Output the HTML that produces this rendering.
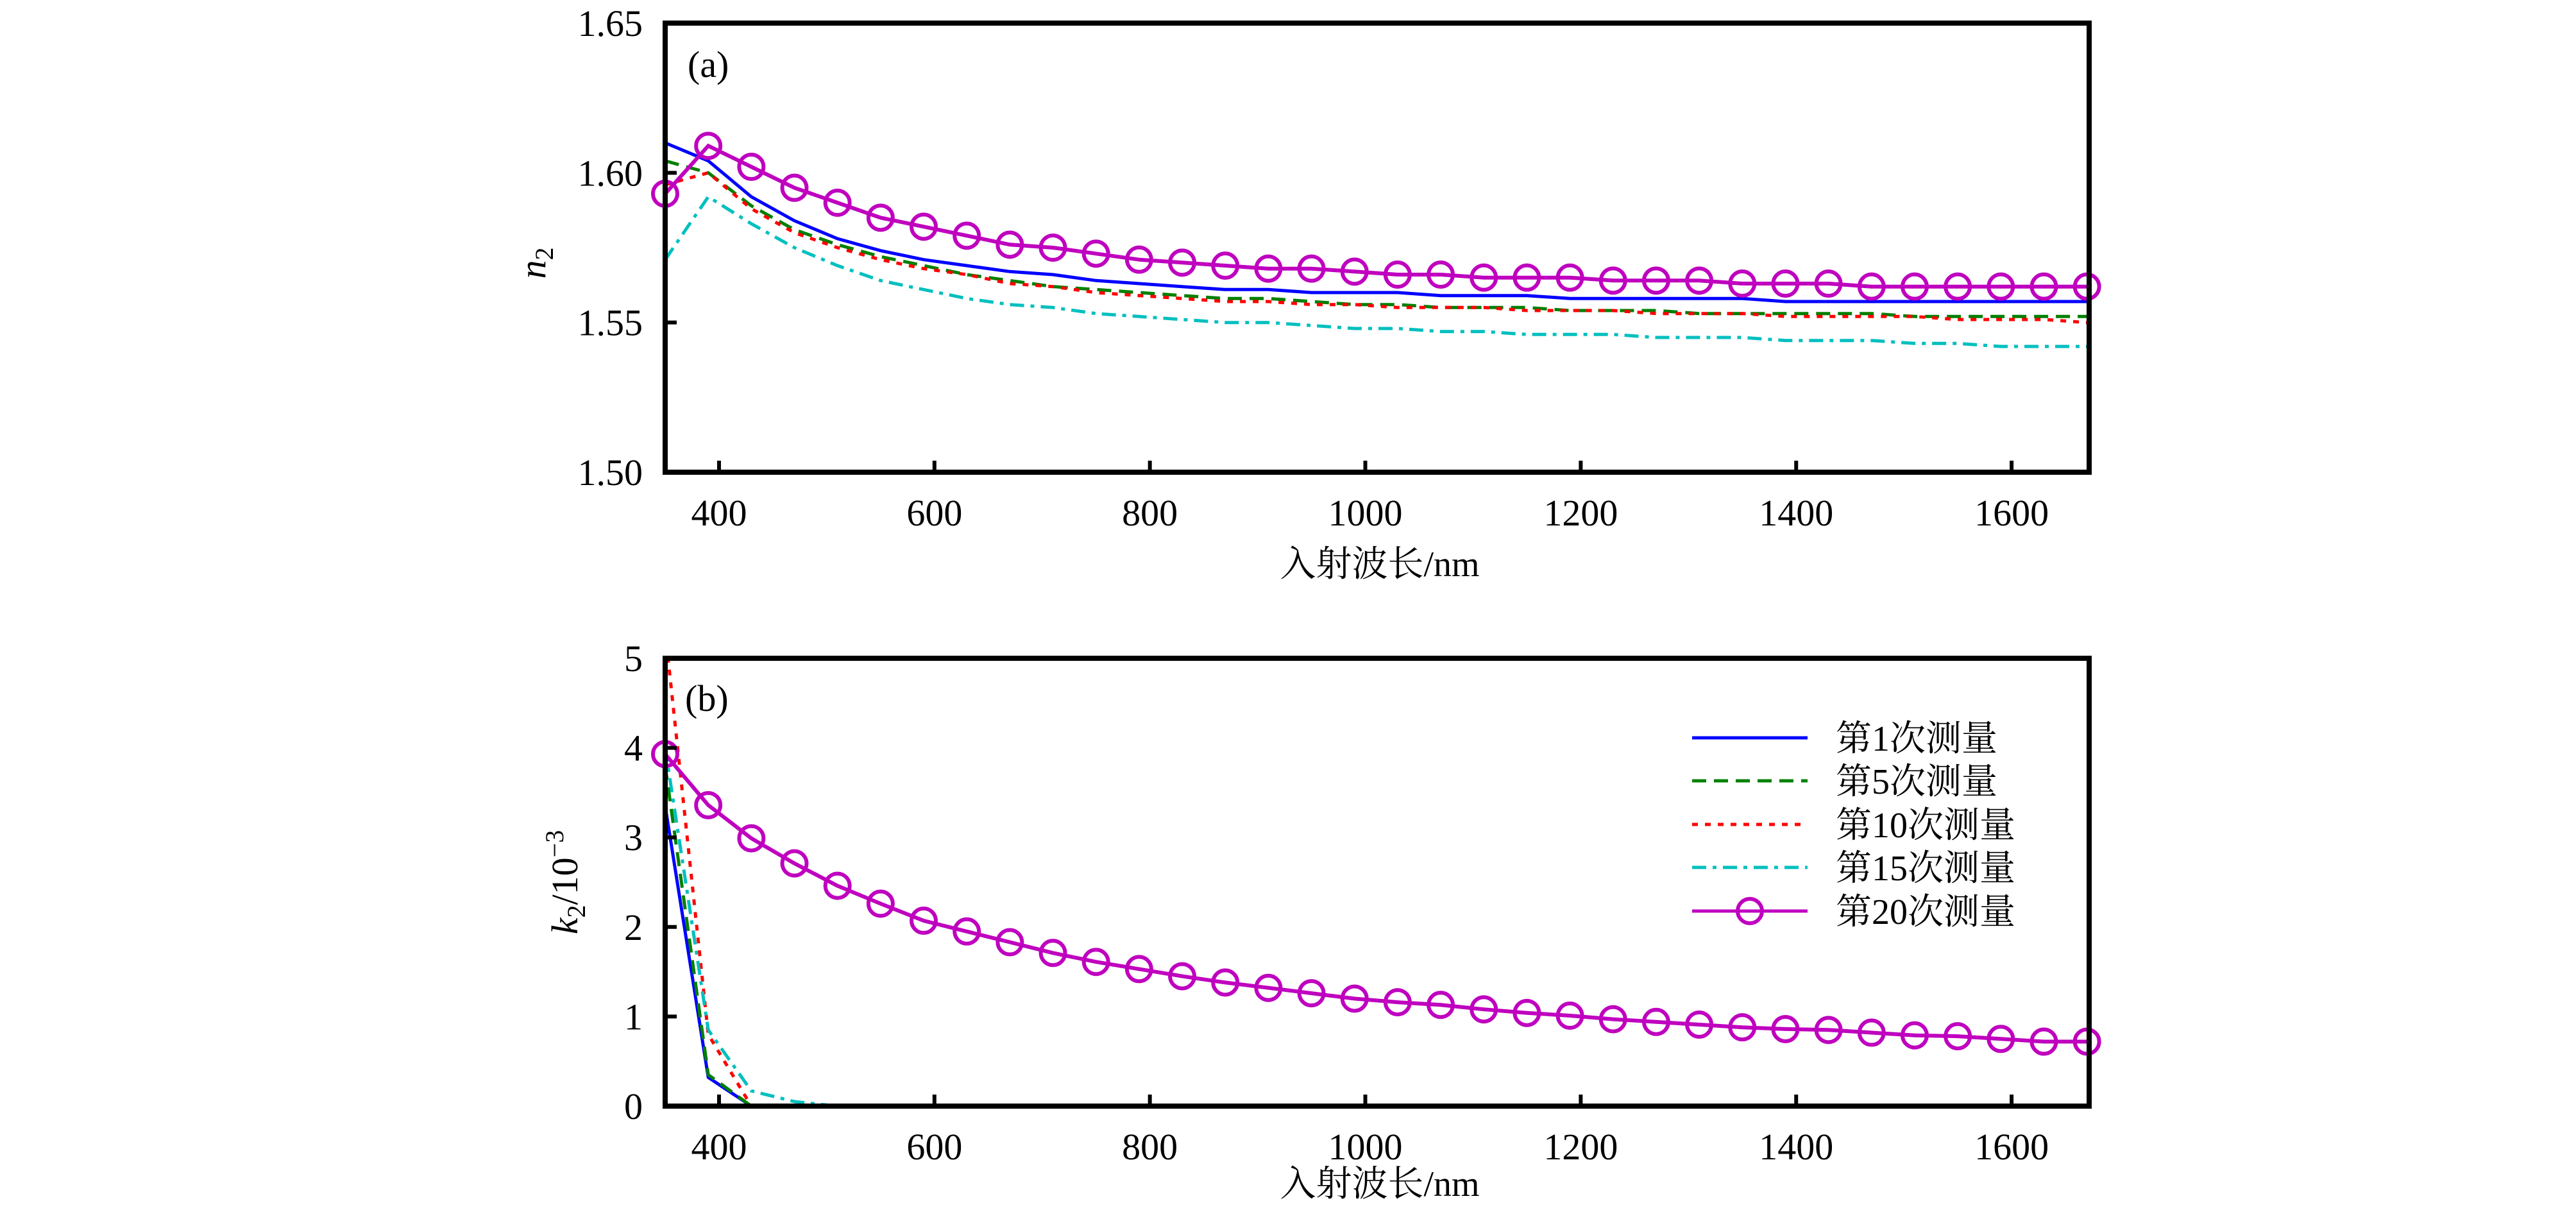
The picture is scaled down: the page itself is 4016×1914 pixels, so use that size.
<!DOCTYPE html>
<html><head><meta charset="utf-8">
<style>
html,body{margin:0;padding:0;background:#fff;}
svg{display:block;}
text{font-family:"Liberation Serif","Noto Serif CJK SC",serif;fill:#000;}
</style></head>
<body>
<svg id="chart" width="4016" height="1914" viewBox="0 0 4016 1914" xmlns="http://www.w3.org/2000/svg">
<g id="pa"></g>
<g id="pb"></g>
</svg>
<script>
const wl = [350,390,430,470,510,550,590,630,670,710,750,790,830,870,910,950,990,1030,1070,1110,1150,1190,1230,1270,1310,1350,1390,1430,1470,1510,1550,1590,1630,1670];
const nMeas1  = [1.610,1.604,1.592,1.584,1.578,1.574,1.571,1.569,1.567,1.566,1.564,1.563,1.562,1.561,1.561,1.560,1.560,1.560,1.559,1.559,1.559,1.558,1.558,1.558,1.558,1.558,1.557,1.557,1.557,1.557,1.557,1.557,1.557,1.557];
const nMeas5  = [1.604,1.600,1.589,1.581,1.576,1.572,1.569,1.566,1.564,1.562,1.561,1.560,1.559,1.558,1.558,1.557,1.556,1.556,1.555,1.555,1.555,1.554,1.554,1.554,1.553,1.553,1.553,1.553,1.553,1.552,1.552,1.552,1.552,1.552];
const nMeas10 = [1.596,1.600,1.588,1.580,1.575,1.571,1.568,1.566,1.563,1.562,1.560,1.559,1.558,1.557,1.557,1.556,1.556,1.555,1.555,1.555,1.554,1.554,1.554,1.553,1.553,1.553,1.552,1.552,1.552,1.552,1.551,1.551,1.551,1.550];
const nMeas15 = [1.571,1.592,1.583,1.575,1.569,1.564,1.561,1.558,1.556,1.555,1.553,1.552,1.551,1.550,1.550,1.549,1.548,1.548,1.547,1.547,1.546,1.546,1.546,1.545,1.545,1.545,1.544,1.544,1.544,1.543,1.543,1.542,1.542,1.542];
const nMeas20 = [1.593,1.609,1.602,1.595,1.590,1.585,1.582,1.579,1.576,1.575,1.573,1.571,1.570,1.569,1.568,1.568,1.567,1.566,1.566,1.565,1.565,1.565,1.564,1.564,1.564,1.563,1.563,1.563,1.562,1.562,1.562,1.562,1.562,1.562];
const kMeas1  = [3.35,0.32,0,0,0,0,0,0,0,0,0,0,0,0,0,0,0,0,0,0,0,0,0,0,0,0,0,0,0,0,0,0,0,0];
const kMeas5  = [3.80,0.35,0,0,0,0,0,0,0,0,0,0,0,0,0,0,0,0,0,0,0,0,0,0,0,0,0,0,0,0,0,0,0,0];
const kMeas10 = [5.30,0.80,0,0,0,0,0,0,0,0,0,0,0,0,0,0,0,0,0,0,0,0,0,0,0,0,0,0,0,0,0,0,0,0];
const kMeas15 = [4.00,0.85,0.17,0.05,0,0,0,0,0,0,0,0,0,0,0,0,0,0,0,0,0,0,0,0,0,0,0,0,0,0,0,0,0,0];
const kMeas20 = [3.93,3.36,2.99,2.71,2.46,2.26,2.07,1.95,1.83,1.71,1.61,1.53,1.45,1.38,1.32,1.26,1.20,1.16,1.13,1.08,1.04,1.01,0.97,0.94,0.91,0.88,0.86,0.85,0.82,0.79,0.78,0.75,0.72,0.72];
const xTicks = [400,600,800,1000,1200,1400,1600];
const nTicks = [1.50,1.55,1.60,1.65];
const nTickLabels = ["1.50","1.55","1.60","1.65"];
const kTicks = [0,1,2,3,4,5];
const legendLabels = ["第1次测量","第5次测量","第10次测量","第15次测量","第20次测量"];

const NS="http://www.w3.org/2000/svg";
const L=1037,R=3257,XMIN=350,XMAX=1672;
function xs(v){return L+(v-XMIN)/(XMAX-XMIN)*(R-L);}
function mk(tag,attrs,parent){const e=document.createElementNS(NS,tag);for(const k in attrs)e.setAttribute(k,attrs[k]);parent.appendChild(e);return e;}
const styles=[
 {c:"#0000ff",d:"none"},
 {c:"#008000",d:"22 12"},
 {c:"#ff0000",d:"9 11"},
 {c:"#00bfbf",d:"22 10 6 10"},
 {c:"#bf00bf",d:"none"}];
const seriesNames=["series-meas-1","series-meas-5","series-meas-10","series-meas-15","series-meas-20"];

function panel(g,T,B,ymin,ymax,ticks,tickLabels,series,clipId,tag){
  const ys=v=>B-(v-ymin)/(ymax-ymin)*(B-T);
  const defs=mk("defs",{},g);
  const cp=mk("clipPath",{id:clipId},defs);
  mk("rect",{x:L,y:T,width:R-L,height:B-T},cp);
  const sg=mk("g",{"clip-path":"url(#"+clipId+")"},g);
  series.forEach((arr,i)=>{
    const pts=arr.map((v,j)=>xs(wl[j]).toFixed(1)+","+ys(v).toFixed(1)).join(" ");
    const pl=mk("polyline",{points:pts,fill:"none",stroke:styles[i].c,"stroke-width":i==4?6:5,"stroke-dasharray":styles[i].d},sg);
    
    
  });
  const mg=mk("g",{},g);
  series[4].forEach((v,j)=>{
    const c=mk("circle",{cx:xs(wl[j]),cy:ys(v),r:19,fill:"none",stroke:"#bf00bf","stroke-width":6},mg);
    
    
  });
  const f=mk("rect",{x:L,y:T,width:R-L,height:B-T,fill:"none",stroke:"#000","stroke-width":8},g);
  
  
  xTicks.forEach(t=>{
    mk("line",{x1:xs(t),x2:xs(t),y1:B,y2:B-18,stroke:"#000","stroke-width":6},g);
    const tx=mk("text",{x:xs(t),y:B+83,"font-size":58,"text-anchor":"middle"},g);
    tx.textContent=t;
    
    
  });
  ticks.forEach((t,i)=>{
    mk("line",{x1:L,x2:L+18,y1:ys(t),y2:ys(t),stroke:"#000","stroke-width":6},g);
    const tx=mk("text",{x:L-35,y:ys(t)+20,"font-size":58,"text-anchor":"end"},g);
    tx.textContent=tickLabels[i];
    
    
  });
}
const pa=document.getElementById("pa"),pb=document.getElementById("pb");
panel(pa,36,736,1.50,1.65,nTicks,nTickLabels,[nMeas1,nMeas5,nMeas10,nMeas15,nMeas20],"ca","panel-a");
panel(pb,1026,1724,0,5,kTicks,kTicks.map(String),[kMeas1,kMeas5,kMeas10,kMeas15,kMeas20],"cb","panel-b");

function txt(p,x,y,s,str,name,extra){const t=mk("text",Object.assign({x:x,y:y,"font-size":s},extra||{}),p);t.textContent=str;
 
 return t;}
txt(pa,1072,120,58,"(a)","panel-a-tag");
txt(pb,1068,1108,58,"(b)","panel-b-tag");
txt(pa,2151,898,56,"入射波长/nm","panel-a-x-axis-title",{"text-anchor":"middle"});
txt(pb,2151,1864,56,"入射波长/nm","panel-b-x-axis-title",{"text-anchor":"middle"});
// y titles
const ya=mk("text",{x:0,y:0,"font-size":58,"text-anchor":"middle",transform:"translate(850,410) rotate(-90)"},pa);
ya.innerHTML='<tspan font-style="italic">n</tspan><tspan font-size="40" dy="12">2</tspan>';


const yb=mk("text",{x:0,y:0,"font-size":58,"text-anchor":"middle",transform:"translate(900,1375) rotate(-90)"},pb);
yb.innerHTML='<tspan font-style="italic">k</tspan><tspan font-size="40" dy="12">2</tspan><tspan dy="-12">/10</tspan><tspan font-size="40" dy="-22">−3</tspan>';


// legend
const lg=mk("g",{},pb);


const ly=[1150,1217,1285,1352,1420];
legendLabels.forEach((s,i)=>{
  const e=mk("g",{},lg);
  
  
  mk("line",{x1:2638,x2:2818,y1:ly[i],y2:ly[i],stroke:styles[i].c,"stroke-width":5,"stroke-dasharray":styles[i].d},e);
  if(i==4) mk("circle",{cx:2728,cy:ly[i],r:19,fill:"none",stroke:"#bf00bf","stroke-width":6},e);
  txt(e,2862,ly[i]+20,56,s,"legend-label");
});
</script>
</body></html>
